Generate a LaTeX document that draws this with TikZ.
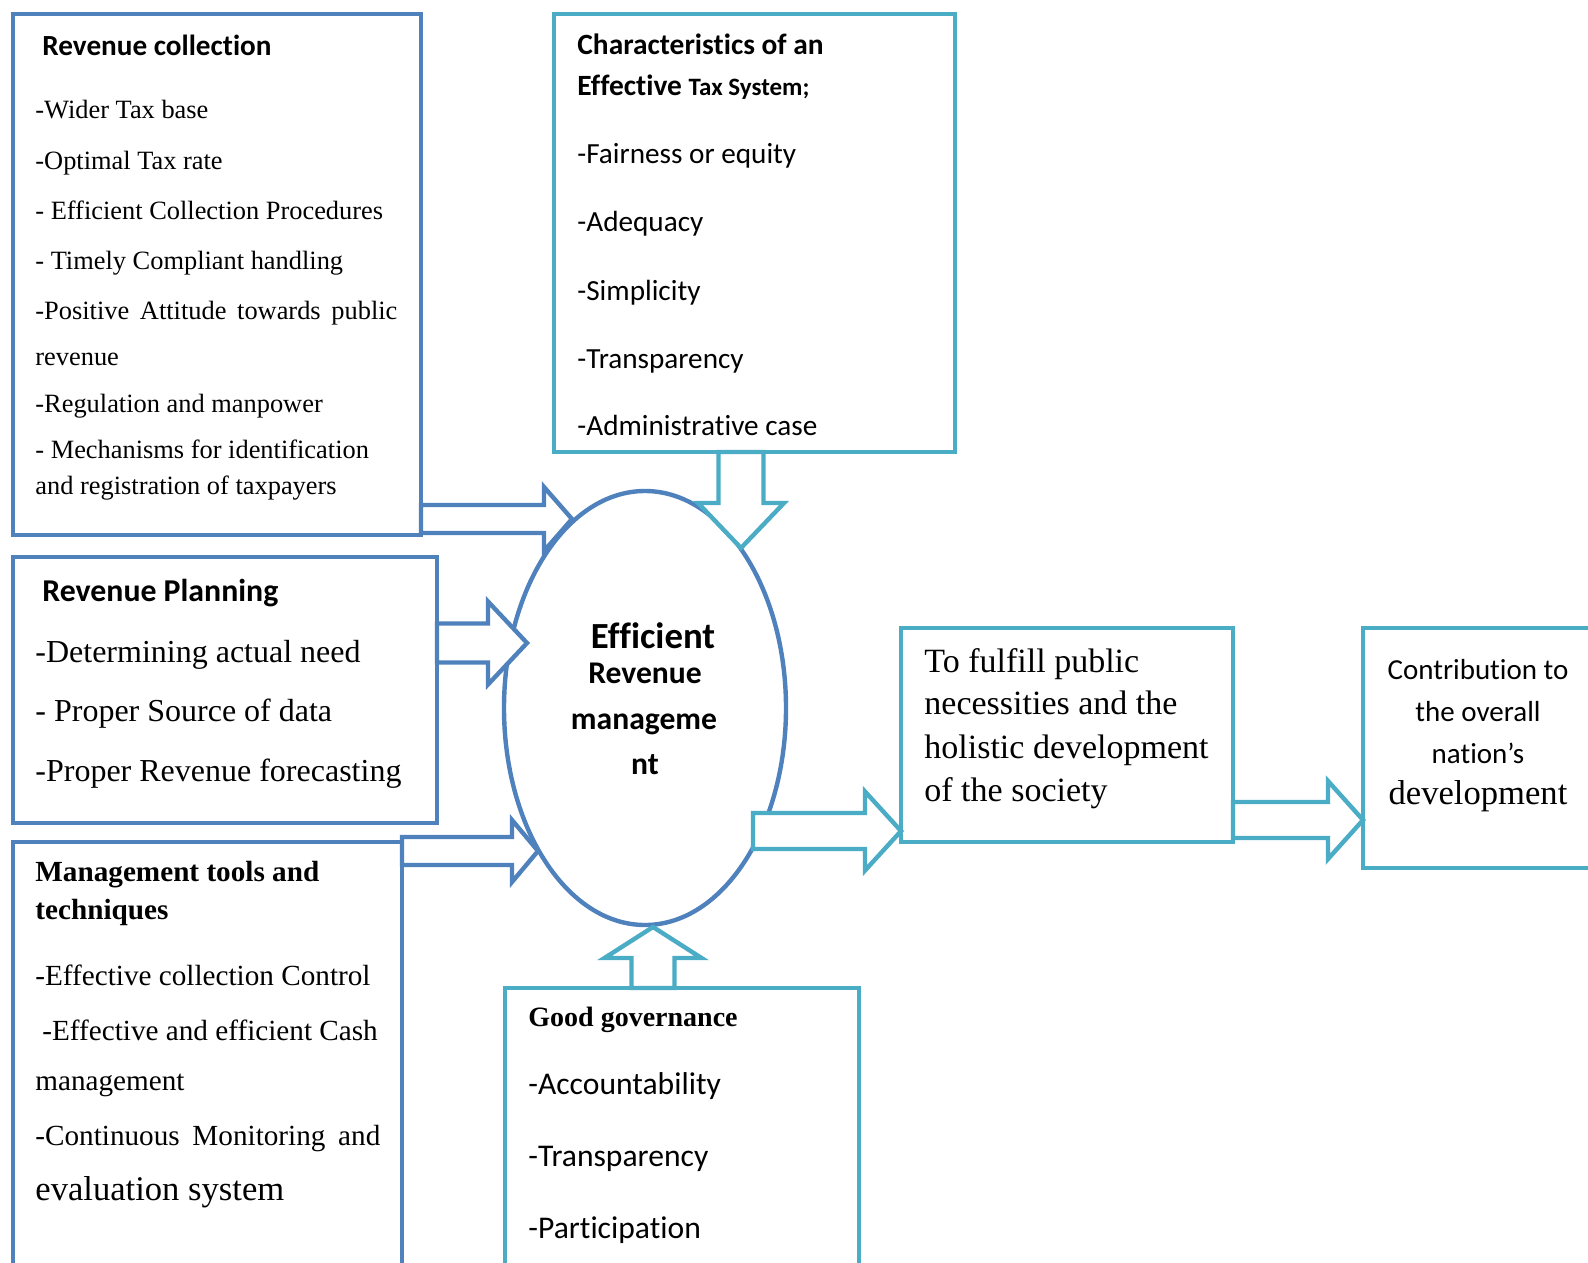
\documentclass[tikz,border=0pt]{standalone}
\usepackage{fontspec}
\setmainfont{Liberation Serif}
\newfontfamily\calibri[Ligatures=NoCommon]{Carlito}
\usetikzlibrary{calc,fit,shapes.geometric}

\definecolor{darkblu}{RGB}{79,129,189}
\definecolor{lightblu}{RGB}{75,172,198}

% hollow block arrow: style, from, to, half shaft, half head, head length
\newcommand{\fatarrow}[6]{%
	\draw[#1] let \p1=#2, \p2=#3, \n1={atan2(\y2-\y1,\x2-\x1)} in
		({\x1-#4*sin(\n1)},{\y1+#4*cos(\n1)})
		-- ({\x2-#6*cos(\n1)-#4*sin(\n1)},{\y2-#6*sin(\n1)+#4*cos(\n1)})
		-- ({\x2-#6*cos(\n1)-#5*sin(\n1)},{\y2-#6*sin(\n1)+#5*cos(\n1)})
		-- (\p2)
		-- ({\x2-#6*cos(\n1)+#5*sin(\n1)},{\y2-#6*sin(\n1)-#5*cos(\n1)})
		-- ({\x2-#6*cos(\n1)+#4*sin(\n1)},{\y2-#6*sin(\n1)-#4*cos(\n1)})
		-- ({\x1+#4*sin(\n1)},{\y1-#4*cos(\n1)}) -- cycle;%
}

\tikzset{
	box/.style={inner sep=0pt, outer sep=0pt, line width=2.2pt},
	blubox/.style={box, draw=darkblu},
	cyanbox/.style={box, draw=lightblu},
	blufat/.style={draw=darkblu, fill=white, line width=2.2pt},
	cyanfat/.style={draw=lightblu, fill=white, line width=2.2pt},
	txt/.style={anchor=base west, inner sep=0pt},
	sf/.style={txt, font=\calibri\fontsize{#1}{#1}\selectfont},
	sfb/.style={txt, font=\calibri\bfseries\fontsize{#1}{#1}\selectfont},
	rm/.style={txt, font=\fontsize{#1}{#1}\selectfont},
	rmb/.style={txt, font=\bfseries\fontsize{#1}{#1}\selectfont}
}

\begin{document}
\begin{tikzpicture}[x=0.5pt, y=-0.5pt]

	\useasboundingbox (0,0) rectangle (1588,1262);
	\clip (0,0) rectangle (1588,1262);

	% boxes
	\node[blubox, fit={(13,14) (421,535)}] (rc) {};
	\node[cyanbox, fit={(554,14) (955,452)}] (cet) {};
	\node[blubox, fit={(13,557) (437,823)}] (rp) {};
	\node[blubox, fit={(13,842) (402,1300)}] (mt) {};
	\node[cyanbox, fit={(505,988) (859,1300)}] (gg) {};
	\node[cyanbox, fit={(901,628) (1233,842)}] (ful) {};
	\node[cyanbox, fit={(1363,628) (1650,868)}] (con) {};
	\node[ellipse, draw=darkblu, line width=2.2pt, inner sep=0pt, outer sep=0pt,
		minimum width=141pt, minimum height=217pt] (eff) at (645,708) {};

	% arrows
	\fatarrow{blufat}{($(rc.south east)+(0,-16)$)}{($(eff.center)+(-73,-189)$)}{7pt}{16pt}{14pt}
	\fatarrow{blufat}{($(rp.east)+(0,-47)$)}{($(eff.center)+(-118,-65)$)}{9.75pt}{20.75pt}{19.5pt}
	\fatarrow{blufat}{($(mt.north east)+(0,9)$)}{($(eff.center)+(-107,143)$)}{7pt}{15.5pt}{13pt}
	\fatarrow{cyanfat}{($(cet.south west)+(187,0)$)}{($(eff.center)+(96,-160)$)}{11.25pt}{21.5pt}{22.5pt}
	\fatarrow{cyanfat}{($(gg.north west)+(148,0)$)}{($(eff.center)+(8,219)$)}{10.75pt}{24.25pt}{15.5pt}
	\fatarrow{cyanfat}{($(eff.center)+(108,123)$)}{($(ful.south west)+(0,-11)$)}{9pt}{19.75pt}{18pt}
	\fatarrow{cyanfat}{($(ful.south east)+(0,-22)$)}{($(con.west)+(0,72)$)}{9pt}{19.5pt}{17.5pt}

	% revenue collection
	\node[sfb=14.6] (rc-head) at (42,56) {Revenue collection};
	\foreach \t/\y [count=\i] in {-Wider Tax base/119, -Optimal Tax rate/170,
		- Efficient Collection Procedures/220, - Timely Compliant handling/270,
		{\makebox[181pt][s]{-Positive Attitude towards public}}/320, revenue/365,
		-Regulation and manpower/412, - Mechanisms for identification/458,
		and registration of taxpayers/494}
		\node[rm=13.2] (rc-\i) at (35,\y) {\t};
		; %end for \t

	% characteristics
	\node[sfb=14.7] (cet-head) at (577,55) {Characteristics of an};
	\node[sfb=14.7] (cet-head2) at (577,96) {Effective {\fontsize{12.5}{12.5}\selectfont Tax System;}};
	\foreach \t/\y [count=\i] in {-Fairness or equity/164, -Adequacy/232, -Simplicity/300,
		-Transparency/368, -Administrative case/435}
		\node[sf=14.6] (cet-\i) at (577,\y) {\t};
		; %end for \t

	% revenue planning
	\node[sfb=15.9] (rp-head) at (42,601) {Revenue Planning};
	\foreach \t/\y [count=\i] in {-Determining actual need/662, - Proper Source of data/721,
		-Proper Revenue forecasting/781}
		\node[rm=16] (rp-\i) at (35,\y) {\t};
		; %end for \t

	% management tools
	\node[rmb=14.6] (mt-head) at (35,881) {Management tools and};
	\node[rmb=14.6] (mt-head2) at (35,919) {techniques};
	\node[rm=14.6] (mt-1) at (35,985) {-Effective collection Control};
	\node[rm=14.6] (mt-2) at (42,1040) {-Effective and efficient Cash};
	\node[rm=14.6] (mt-3) at (35,1090) {management};
	\node[rm=14.6] (mt-4) at (35,1145) {\makebox[172.5pt][s]{-Continuous Monitoring and}};
	\node[rm=17.3] (mt-5) at (35,1200) {evaluation system};

	% good governance
	\node[rmb=14] (gg-head) at (528,1026) {Good governance};
	\foreach \t/\y [count=\i] in {-Accountability/1094, -Transparency/1166, -Participation/1238}
		\node[sf=15.8] (gg-\i) at (528,\y) {\t};
		; %end for \t

	% centre
	\node[sfb=18.4, anchor=base] (eff-1) at (653,648) {Efficient};
	\node[sfb=15.8, anchor=base] (eff-2) at (645,683) {Revenue};
	\node[sfb=15.8, anchor=base] (eff-3) at (644,729) {manageme};
	\node[sfb=15.8, anchor=base] (eff-4) at (645,774) {nt};

	% outcomes
	\foreach \t/\y [count=\i] in {To fulfill public/672, necessities and the/714,
		holistic development/758, of the society/801}
		\node[rm=17] (ful-\i) at (924,\y) {\t};
		; %end for \t
	\node[sf=14.5, anchor=base] (con-1) at (1478,679) {Contribution to};
	\node[sf=14.5, anchor=base] (con-2) at (1478,721) {the overall};
	\node[sf=14.5, anchor=base] (con-3) at (1478,763) {nation’s};
	\node[rm=17.3, anchor=base] (con-4) at (1478,804) {development};

\end{tikzpicture}
\end{document}
